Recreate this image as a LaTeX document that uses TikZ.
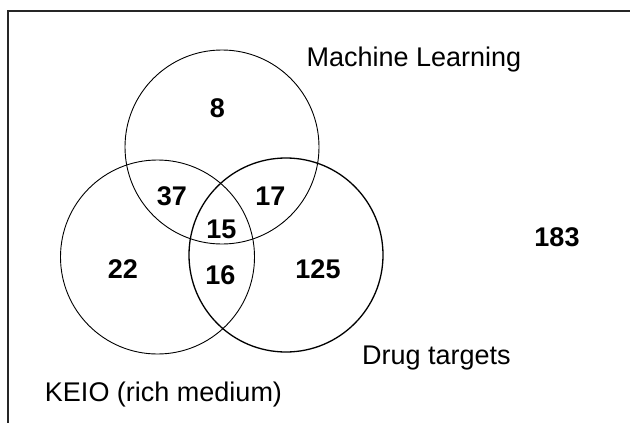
\documentclass[tikz,border=0pt]{standalone}
\usepackage{fontspec}
\setmainfont{Liberation Sans}
\begin{document}
\begin{tikzpicture}[x=1pt,y=-1pt,
  setc/.style={draw=black,line width=0.9pt},
  lbl/.style={font=\fontsize{27}{32}\selectfont,anchor=base,inner sep=0pt},
  num/.style={font=\fontsize{27}{32}\selectfont\bfseries,anchor=base,inner sep=0pt}]
\useasboundingbox (0,0) rectangle (630,423);
\fill[white] (0,0) rectangle (630,423);
% partial frame
\coordinate (fa) at (8,423);
\coordinate (fb) at (8,11);
\coordinate (fc) at (630,11);
\draw[line width=1.6pt,black!85] (fa) -- (fb) -- (fc);
% circles
\node[setc,circle,minimum size=194pt,inner sep=0pt] (ml) at (222,147) {};
\node[setc,circle,minimum size=194pt,inner sep=0pt] (keio) at (157.5,257) {};
\node[setc,circle,minimum size=194pt,inner sep=0pt,line width=1.3pt] (drug) at (286,255) {};
% labels
\node[lbl] (tml) at (414,66) {Machine Learning};
\node[lbl] (tdrug) at (436.5,364) {Drug targets};
\node[lbl] (tkeio) at (163.5,401) {KEIO (rich medium)};
% counts
\node[num] (n8) at (217.5,117) {8};
\node[num] (n37) at (172,205) {37};
\node[num] (n17) at (270.5,205) {17};
\node[num] (n15) at (221.5,238) {15};
\node[num] (n22) at (123,278) {22};
\node[num] (n16) at (220.5,284) {16};
\node[num] (n125) at (318,278) {125};
\node[num] (n183) at (557,246) {183};
\end{tikzpicture}
\end{document}
